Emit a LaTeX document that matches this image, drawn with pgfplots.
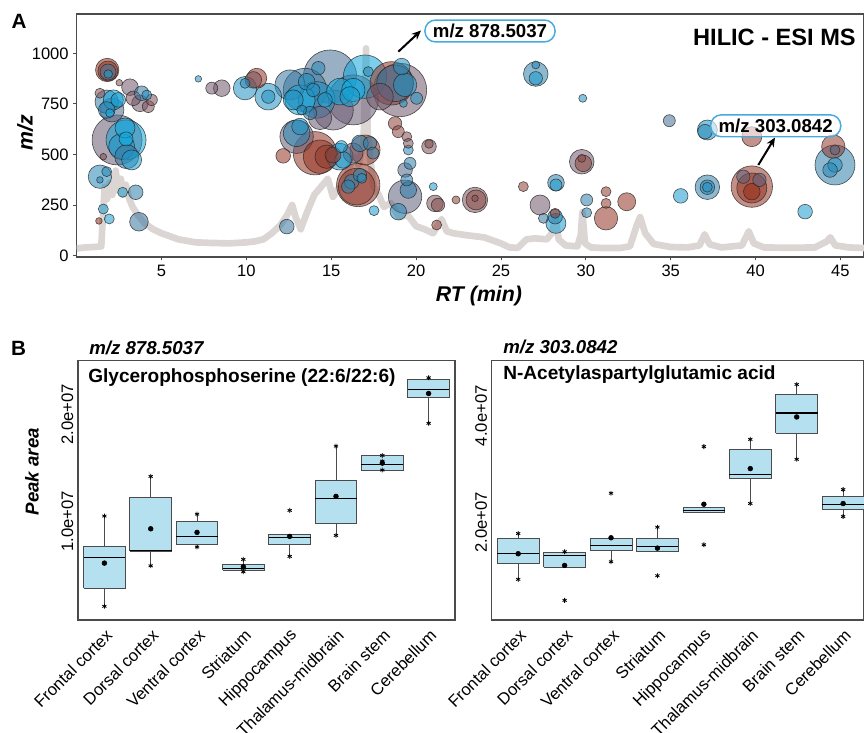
\documentclass[border=0pt]{standalone}
\usepackage{pgfplots}
\pgfplotsset{compat=1.18}
\usetikzlibrary{arrows.meta}
\usepackage{fontspec}
\setmainfont{Liberation Sans}
\definecolor{chrom}{RGB}{219,214,211}
\definecolor{boxfill}{RGB}{180,224,240}
\definecolor{frame}{RGB}{75,75,75}
\definecolor{lblue}{RGB}{70,170,225}
% box: position, lower whisker, lower quartile, median, upper quartile, upper whisker (peak area / 1e7)
\newcommand{\bx}[6]{%
  \pgfmathsetmacro\xl{#1-0.45}\pgfmathsetmacro\xr{#1+0.45}%
  \addplot[draw=frame, line width=0.6pt] coordinates {(#1,#2) (#1,#3)};
  \addplot[draw=frame, line width=0.6pt] coordinates {(#1,#5) (#1,#6)};
  \addplot[draw=frame, fill=boxfill, line width=0.6pt] coordinates {(\xl,#3) (\xr,#3) (\xr,#5) (\xl,#5) (\xl,#3)};
  \addplot[draw=black, line width=0.8pt] coordinates {(\xl,#4) (\xr,#4)};
}
\pgfplotsset{
  boxstyle/.style={
    scale only axis, anchor=south west,
    xmin=0.43, xmax=8.57,
    xtick={1,...,8},
    xticklabels={Frontal cortex,Dorsal cortex,Ventral cortex,Striatum,Hippocampus,Thalamus-midbrain,Brain stem,Cerebellum},
    xticklabel style={xshift=6pt, yshift=-7pt, rotate=45, anchor=east, font=\fontsize{12.5}{14}\selectfont},
    yticklabel style={rotate=90, anchor=south, font=\fontsize{12.5}{14}\selectfont},
    major tick length=0pt,
    scaled y ticks=false,
    axis line style={frame, line width=0.8pt},
  }
}
\begin{document}
\begin{tikzpicture}
\useasboundingbox (0pt,0pt) rectangle (648pt,-549pt);
% ---------------- Panel A ----------------
\begin{axis}[
  at={(57.5pt,-192.75pt)}, anchor=south west,
  width=590.5pt, height=182.25pt, scale only axis,
  xmin=0, xmax=46.39, ymin=-7.4, ymax=1195,
  xtick={5,10,...,45}, ytick={0,250,500,750,1000},
  xtick pos=bottom, ytick pos=left,
  tick align=outside, major tick length=2.5pt,
  tick style={frame, line width=0.7pt},
  axis line style={frame, line width=0.8pt},
  ticklabel style={font=\fontsize{12.4}{14}\selectfont},
  /pgf/number format/assume math mode=true,
  /pgf/number format/1000 sep={},
  colormap={bub}{rgb255=(150,45,25) rgb255=(140,75,70) rgb255=(105,90,115) rgb255=(45,125,170) rgb255=(10,175,230)},
  point meta min=0, point meta max=1,
]
\addplot[color=chrom, line width=5pt, line join=round] coordinates {
(0,35) (0.5,40) (1.0,42) (1.45,45) (1.55,200) (1.65,340) (1.8,280) (1.95,360) (2.1,300) (2.3,420) (2.45,320) (2.6,380) (2.75,300) (2.9,350) (3.1,280) (3.3,240) (3.6,200) (4.0,160) (4.5,130) (5.0,110) (5.5,95) (6.0,80) (7.0,65) (8.0,62) (9.0,60) (10.0,65) (10.5,70) (11.0,80) (11.5,110) (12.0,150) (12.4,200) (12.7,250) (12.9,190) (13.2,130) (13.6,220) (14.0,300) (14.4,340) (14.8,380) (15.1,290) (15.4,330) (15.7,340) (16.0,420) (16.3,490) (16.6,450) (16.9,560) (17.05,1025) (17.15,600) (17.3,480) (17.5,340) (17.8,300) (18.1,240) (18.5,260) (19.0,190) (19.5,200) (20.0,145) (20.5,130) (21.0,110) (21.5,180) (21.8,120) (22.2,110) (23,100) (24,90) (25,60) (25.5,40) (26,38) (26.5,80) (27,85) (27.7,80) (28.0,110) (28.2,190) (28.4,80) (28.8,50) (29.5,45) (29.7,100) (29.8,215) (29.95,60) (30.3,40) (31,37) (32,37) (32.6,45) (33.0,150) (33.2,190) (33.5,110) (34,57) (35,42) (36,40) (36.7,50) (37.0,105) (37.3,55) (38,40) (39.2,50) (39.6,120) (39.9,60) (40.5,40) (42,38) (43.5,40) (44.2,70) (44.4,90) (44.7,50) (45.5,40) (46.4,37)
};
\addplot[scatter, only marks, mark=*, scatter src=explicit,
  scatter/use mapped color={draw=black!85, fill=mapped color},
  visualization depends on={0.75*\thisrow{r} \as \rad},
  scatter/@pre marker code/.append style={/tikz/mark size=\rad},
  mark options={fill opacity=0.55, draw opacity=0.8, line width=0.45pt}]
table[x=rt, y=mz, meta=c] {
rt mz r c
2.38 572 25 0.5
14.93 885 26.7 0.65
19.05 819 26.7 0.45
16.30 770 25 0.5
13.45 819 21.7 0.7
16.99 885 21.7 0.95
18.56 852 21.7 0.05
14.04 506 21.7 0.05
16.59 349 21.7 0.05
39.78 341 20.7 0.05
44.68 448 20 0.75
2.91 572 20 0.95
15.12 720 20 0.5
18.76 852 18.3 0.7
14.14 770 18.3 0.85
16.50 341 18.3 0.15
12.96 588 16.7 0.5
14.34 489 16.7 0.05
19.35 291 16.7 0.55
12.57 844 15 0.7
13.16 770 15 0.95
16.99 522 15 0.05
39.78 334 15 0.05
15.52 811 13.3 1
11.29 786 13.3 0.85
12.96 605 13.3 0.8
15.50 489 13.3 0.85
17.87 786 13.3 0.45
2.65 539 13 0.85
23.47 275 12.7 0.35
27.05 898 12.3 0.75
29.76 464 12.3 0.45
37.16 338 12.3 0.75
2.95 489 12 0.7
2.08 720 12 0.6
1.80 918 11.7 0
1.77 761 11.7 0.75
1.37 390 11.7 0.8
9.92 828 11.7 0.85
16.30 819 11.7 1
19.35 844 11.7 0.85
14.73 489 11.7 0.1
14.34 681 11.7 0.5
31.19 184 11.7 0.05
44.58 539 11.7 0.1
1.84 913 10 0.05
2.16 770 10 0.95
2.85 631 10 0.95
3.24 473 10 0.9
10.61 877 10 0.05
16.10 786 10 0.9
12.76 770 10 0.85
16.28 507 10 0.5
23.53 275 10 0.25
27.30 250 10 0.45
28.24 159 10 0.9
37.16 621 10 0.85
39.78 588 10 0.1
3.67 167 9.3 0.7
32.41 266 9 0.05
1.85 908 8 0.7
3.14 833 8.3 0.45
3.73 753 8.3 0.45
1.77 720 8.3 0.8
8.55 828 8.3 0.45
10.41 869 8.3 0.4
13.55 860 8.3 0.85
19.15 935 8.3 0.85
13.16 638 8.3 0.85
15.70 473 8.3 0.85
16.69 555 8.3 0.8
18.95 217 8.3 0.8
19.54 324 8.3 0.75
21.11 258 8.3 0.35
29.85 456 8.3 0.2
28.24 360 8.3 0.75
39.78 316 8.3 0
15.10 497 8 0.1
2.45 770 7.3 0.9
3.34 778 7.3 0.4
3.83 803 7.3 0.7
3.48 313 7.3 0.75
12.38 143 7.3 0.7
14.63 770 7.3 0.9
12.17 493 7.3 0.05
16.20 365 7.3 0.8
19.35 423 7.3 0.6
20.76 539 7.3 0.35
28.19 192 7.3 0.8
35.59 295 7.3 0.9
37.16 338 7.3 0.8
37.02 613 7.3 0.8
42.92 217 7.3 0.9
44.68 448 7.3 0.85
44.39 423 7.3 0.8
2.91 577 7 1
7.96 828 6 0.45
9.92 852 5 0.8
11.29 786 6.7 0.85
14.24 927 6.7 0.8
13.94 819 6.7 0.85
13.75 705 6.7 0.75
17.28 555 6.7 0.75
16.69 398 6.7 0.85
16.00 341 6.7 0.8
18.76 654 6.7 0.15
21.29 250 6.7 0.3
27.05 877 6.7 0.9
39.28 390 6.7 0.55
40.23 374 6.7 0.55
4.22 737 6 0.35
15.60 539 6 0.9
17.46 507 6 0.75
19.45 374 6 0.75
19.64 456 6 0.75
18.95 613 6 0.2
20.03 778 6 0.85
28.24 349 6 0.9
30.05 275 6 0.75
34.92 667 6 0.65
4.42 770 5.7 0.35
4.13 794 5 0.85
1.37 803 5 0.3
1.77 415 5 0.8
2.71 313 5 0.9
1.57 230 5 0.9
1.92 181 5 0.9
13.26 720 5 0.8
17.18 910 5 0.8
16.80 382 5 0.85
17.52 222 5 0.9
19.54 522 5 0.8
19.45 588 5 0.3
19.54 555 5 0.4
21.21 151 5 0.15
26.32 341 5 0.15
27.50 184 5 0.7
28.19 209 5 0.1
30.05 212 5 0.75
31.19 316 5 0.1
31.19 258 5 0.1
37.16 338 5 0.85
44.68 522 5 0.55
1.86 898 4.3 0.9
1.96 705 4.3 1
20.76 552 4.3 0.3
19.25 753 4 0.85
21.01 341 4 0.9
22.35 275 4 0.15
27.05 943 4 0.8
29.82 778 4 0.85
29.76 481 4 0.25
2.51 855 3.3 0.3
1.57 489 3.3 0.3
1.37 374 3.3 0.8
1.31 171 3.3 0
7.17 874 3.3 0.85
23.47 283 3.3 0.3
};
\end{axis}
% ---------------- Panel B left (peak area / 1e7) ----------------
\begin{axis}[boxstyle,
  at={(58.5pt,-465pt)}, width=282.75pt, height=194.5pt,
  ymin=0.075, ymax=2.5,
  ytick={1,2}, yticklabels={1.0e+07,2.0e+07},
]
\bx{1}{0.203}{0.374}{0.661}{0.760}{1.047}
\bx{2}{0.582}{0.717}{0.722}{1.218}{1.418}
\bx{3}{0.757}{0.782}{0.860}{0.997}{1.065}
\bx{4}{0.526}{0.539}{0.558}{0.595}{0.642}
\bx{5}{0.670}{0.779}{0.844}{0.879}{0.879}
\bx{6}{0.866}{0.981}{1.208}{1.383}{1.701}
\bx{7}{1.477}{1.477}{1.526}{1.610}{1.614}
\bx{8}{1.914}{2.153}{2.231}{2.328}{2.340}
\addplot[only marks, mark=asterisk, mark size=1.8pt, black, line width=0.6pt] coordinates {
(1,1.047) (1,0.203) (2,1.418) (2,0.582) (3,1.065) (3,0.757) (4,0.642) (4,0.526) (4,0.558)
(5,1.100) (5,0.670) (6,1.701) (6,0.866) (7,1.614) (7,1.477) (7,1.560) (8,2.340) (8,1.914)};
\addplot[only marks, mark=*, mark size=1.8pt, black] coordinates {
(1,0.607) (2,0.928) (3,0.894) (4,0.573) (5,0.857) (6,1.231) (7,1.542) (8,2.193)};
\end{axis}
% ---------------- Panel B right (peak area / 1e7) ----------------
\begin{axis}[boxstyle,
  at={(368.8pt,-465pt)}, width=279.2pt, height=194.5pt,
  xmax=8.45,
  ymin=0.174, ymax=5.03,
  ytick={2,4}, yticklabels={2.0e+07,4.0e+07},
]
\bx{1}{0.935}{1.234}{1.421}{1.695}{1.794}
\bx{2}{1.165}{1.165}{1.377}{1.439}{1.452}
\bx{3}{1.265}{1.477}{1.576}{1.695}{1.695}
\bx{4}{1.452}{1.452}{1.551}{1.701}{1.912}
\bx{5}{2.187}{2.187}{2.230}{2.275}{2.275}
\bx{6}{2.355}{2.828}{2.903}{3.370}{3.557}
\bx{7}{3.183}{3.669}{4.050}{4.398}{4.585}
\bx{8}{2.112}{2.237}{2.331}{2.480}{2.617}
\addplot[only marks, mark=asterisk, mark size=1.8pt, black, line width=0.6pt] coordinates {
(1,1.794) (1,0.935) (2,1.452) (2,0.542) (3,2.548) (3,1.265) (4,1.912) (4,1.004)
(5,3.421) (5,1.583) (6,3.557) (6,2.355) (7,4.585) (7,3.183) (8,2.617) (8,2.112)};
\addplot[only marks, mark=*, mark size=1.8pt, black] coordinates {
(1,1.415) (2,1.196) (3,1.714) (4,1.520) (5,2.342) (6,3.009) (7,3.976) (8,2.355)};
\end{axis}
% ---------------- annotations ----------------
\begin{scope}[x=0.75pt, y=-0.75pt]
\node[font=\bfseries\fontsize{15.5}{18}\selectfont] at (19,21) {A};
\node[font=\bfseries\fontsize{15.5}{18}\selectfont] at (18.5,348) {B};
\node[font=\bfseries\fontsize{17.7}{20}\selectfont, anchor=east, inner sep=0] at (856,37) {HILIC - ESI MS};
\draw[-{Stealth[length=7pt,width=6pt]}, line width=1.5pt, black] (398.3,51.7) -- (421,30.5);
\draw[-{Stealth[length=7pt,width=6pt]}, line width=1.5pt, black] (758.3,165) -- (775,137.5);
\node[draw=lblue, line width=1.1pt, rounded corners=8pt, fill=white, fill opacity=0.6, text opacity=1, font=\bfseries\fontsize{14}{16}\selectfont, inner xsep=6pt, inner ysep=3pt] at (490,31) {m/z 878.5037};
\node[draw=lblue, line width=1.1pt, rounded corners=8pt, fill=white, fill opacity=0.6, text opacity=1, font=\bfseries\fontsize{14}{16}\selectfont, inner xsep=6pt, inner ysep=3pt] at (775.7,125.8) {m/z 303.0842};
\node[rotate=90, font=\bfseries\itshape\fontsize{16}{18}\selectfont] at (25,133) {m/z};
\node[font=\bfseries\itshape\fontsize{16}{18}\selectfont] at (479,296) {RT (min)};
\node[rotate=90, font=\bfseries\itshape\fontsize{14}{16}\selectfont] at (32,471.7) {Peak area};
\node[anchor=west, inner sep=0, font=\bfseries\itshape\fontsize{14}{16}\selectfont] at (89,347.5) {m/z 878.5037};
\node[anchor=west, inner sep=0, font=\bfseries\itshape\fontsize{14}{16}\selectfont] at (503,346.7) {m/z 303.0842};
\node[anchor=west, inner sep=0, font=\bfseries\fontsize{14.3}{16}\selectfont] at (88,377.5) {Glycerophosphoserine (22:6/22:6)};
\node[anchor=west, inner sep=0, font=\bfseries\fontsize{14.3}{16}\selectfont] at (503,375) {N-Acetylaspartylglutamic acid};
\end{scope}
\end{tikzpicture}
\end{document}
